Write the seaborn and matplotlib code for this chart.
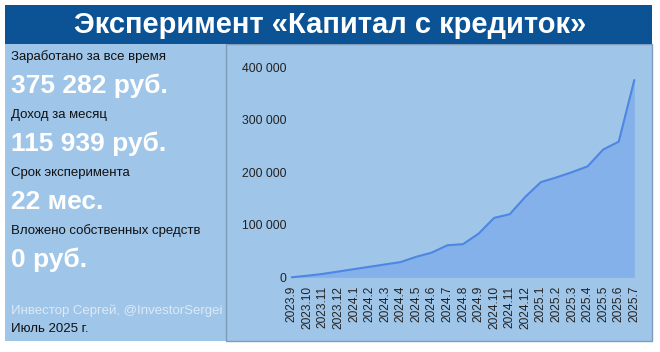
import matplotlib
matplotlib.use("Agg")
import matplotlib.pyplot as plt
from matplotlib.patches import Rectangle
import seaborn as sns
import pandas as pd

# ---- data ----
months = ["2023.9", "2023.10", "2023.11", "2023.12", "2024.1", "2024.2", "2024.3",
          "2024.4", "2024.5", "2024.6", "2024.7", "2024.8", "2024.9", "2024.10",
          "2024.11", "2024.12", "2025.1", "2025.2", "2025.3", "2025.4", "2025.5",
          "2025.6", "2025.7"]
earned = [0, 3000, 6500, 11000, 15500, 20000, 24500, 29000, 39000, 47000, 61000,
          63000, 83000, 113000, 120000, 153000, 181000, 190000, 200000, 211000,
          243000, 258000, 375282]
y_ticks = [0, 100000, 200000, 300000, 400000]
y_tick_labels = ["0", "100 000", "200 000", "300 000", "400 000"]

title = "Эксперимент «Капитал с кредиток»"
stat_labels = ["Заработано за все время", "Доход за месяц", "Срок эксперимента",
               "Вложено собственных средств"]
stat_values = ["375 282 руб.", "115 939 руб.", "22 мес.", "0 руб."]
author = "Инвестор Сергей, @InvestorSergei"
date_text = "Июль 2025 г."

sns.set_style("white")
plt.rcParams["font.family"] = ["Liberation Sans", "DejaVu Sans"]

W, H = 660, 352
fig = plt.figure(figsize=(W / 100, H / 100), dpi=100)
fig.patch.set_facecolor("white")

def px_rect(x0, y0, x1, y1, **kw):
    # coordinates in pixels from top-left
    fig.patches.append(Rectangle((x0 / W, 1 - y1 / H), (x1 - x0) / W, (y1 - y0) / H,
                                 transform=fig.transFigure, figure=fig, **kw))

BG = "#9fc5e8"
# panels
px_rect(5, 44, 226, 341, facecolor=BG, edgecolor="none", zorder=-2)
px_rect(226, 44, 652, 341, facecolor=BG, edgecolor="#7f9cba", linewidth=1.0, zorder=-2)
# title band
px_rect(5, 5, 652, 44, facecolor="#0b5394", edgecolor="none", zorder=-1)
fig.text(330 / W, 1 - 25 / H, title, ha="center", va="center", color="white",
         fontsize=21, fontweight="bold", zorder=2)

# left stats
lx = 11 / W
label_y = [57, 115, 173, 231]
value_y = [86, 144, 202, 260]
for lab, val, ly, vy in zip(stat_labels, stat_values, label_y, value_y):
    fig.text(lx, 1 - ly / H, lab, ha="left", va="center", color="#111111", fontsize=9.5)
    fig.text(lx, 1 - vy / H, val, ha="left", va="center", color="white",
             fontsize=19, fontweight="bold")
fig.text(lx, 1 - 311 / H, author, ha="left", va="center", color="#dde9f6", fontsize=9.5)
fig.text(lx, 1 - 329 / H, date_text, ha="left", va="center", color="#111111", fontsize=9.5)

# chart axes
left_px, right_px = 291.7, 634.3
top_px, bottom_px = 67.0, 277.3
ax = fig.add_axes([left_px / W, 1 - bottom_px / H, (right_px - left_px) / W,
                   (bottom_px - top_px) / H])
ax.set_zorder(5)
ax.set_facecolor("none")
df = pd.DataFrame({"idx": range(len(months)), "month": months, "earned": earned})
ax.fill_between(df["idx"], 0, df["earned"], color="#84b1ea", linewidth=0, zorder=1)
sns.lineplot(data=df, x="idx", y="earned", ax=ax, color="#4d86e3", linewidth=1.5,
             zorder=2, clip_on=False)
ax.set_xlim(0, len(months) - 1)
ax.set_ylim(0, 400000)
ax.set_yticks(y_ticks)
ax.set_yticklabels(y_tick_labels)
ax.set_xticks(range(len(months)))
ax.set_xticklabels(months, rotation=90)
ax.tick_params(axis="y", length=0, pad=4, labelsize=8.8, labelcolor="#222222")
ax.tick_params(axis="x", length=0, pad=6, labelsize=8.6, labelcolor="#222222")
ax.set_xlabel("")
ax.set_ylabel("")
for s in ax.spines.values():
    s.set_visible(False)
ax.grid(False)

fig.savefig("out.png", dpi=100, facecolor=fig.get_facecolor())
